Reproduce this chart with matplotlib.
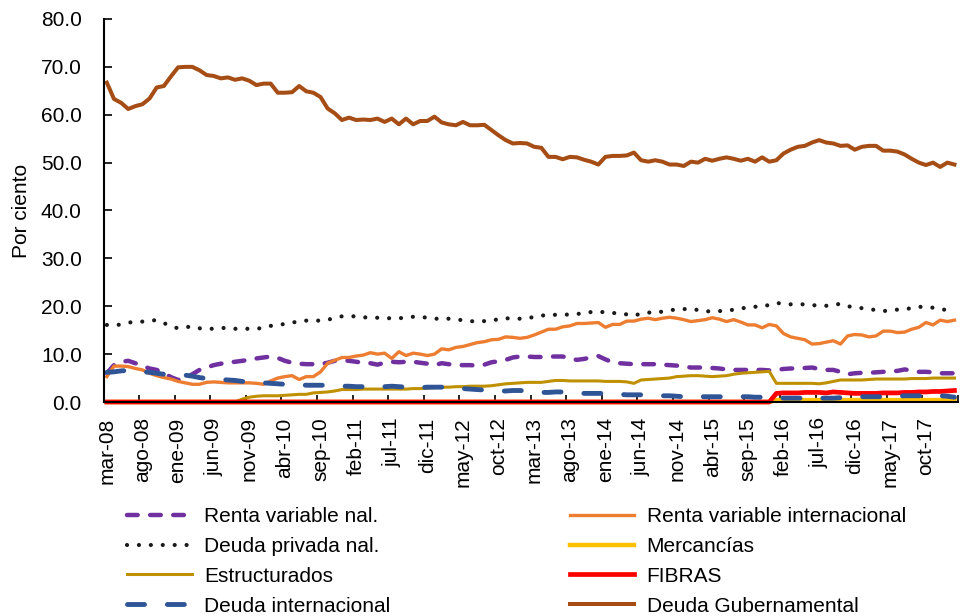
import matplotlib
matplotlib.use("Agg")
import matplotlib.pyplot as plt
import numpy as np

plt.rcParams['font.family'] = ['Liberation Sans', 'DejaVu Sans']

# meses de mar-08 a feb-18
meses_abr = ['ene', 'feb', 'mar', 'abr', 'may', 'jun', 'jul', 'ago', 'sep', 'oct', 'nov', 'dic']
fechas = []
for k in range(120):
    m = (2 + k) % 12
    a = 8 + (2 + k) // 12
    fechas.append('%s-%02d' % (meses_abr[m], a))

renta_var_nal = [6.0, 7.7, 8.4, 8.6, 8.1, 7.5, 7.0, 6.7, 6.0, 5.2,
                 4.6, 5.0, 5.8, 6.7, 7.2, 7.7, 8.0, 8.3, 8.4, 8.6,
                 8.8, 9.1, 9.3, 9.5, 9.2, 8.6, 8.2, 8.0, 7.9, 7.9,
                 7.9, 8.2, 8.6, 8.7, 8.6, 8.4, 8.2, 8.1, 7.8, 8.2,
                 8.4, 8.3, 8.4, 8.4, 8.2, 8.0, 7.7, 8.1, 7.9, 7.7,
                 7.7, 7.7, 7.6, 7.8, 8.3, 8.5, 8.8, 9.3, 9.5, 9.5,
                 9.4, 9.4, 9.5, 9.5, 9.5, 9.1, 8.8, 9.0, 9.3, 9.6,
                 8.9, 8.3, 8.1, 8.0, 7.9, 7.9, 7.9, 7.9, 7.8, 7.7,
                 7.6, 7.4, 7.2, 7.2, 7.2, 7.1, 7.0, 6.8, 6.7, 6.7,
                 6.7, 6.7, 6.7, 6.6, 6.7, 6.9, 7.0, 7.0, 7.1, 7.2,
                 6.9, 6.7, 6.7, 6.3, 5.8, 6.0, 6.1, 6.1, 6.2, 6.3,
                 6.4, 6.5, 6.8, 6.6, 6.3, 6.3, 6.2, 6.0, 6.0, 6.0]

renta_var_int = [5.3, 7.5, 7.5, 7.4, 7.0, 6.7, 6.0, 5.5, 5.1, 4.8,
                 4.3, 4.0, 3.7, 3.7, 4.1, 4.2, 4.1, 4.0, 4.0, 4.0,
                 4.0, 3.9, 3.7, 4.4, 5.0, 5.3, 5.5, 4.7, 5.3, 5.3,
                 6.3, 8.1, 8.7, 9.3, 9.3, 9.6, 9.8, 10.3, 10.0, 10.2,
                 9.1, 10.5, 9.7, 10.2, 10.0, 9.7, 10.0, 11.1, 10.9, 11.4,
                 11.6, 12.0, 12.4, 12.6, 13.0, 13.1, 13.6, 13.5, 13.3, 13.5,
                 14.0, 14.6, 15.2, 15.2, 15.7, 15.9, 16.4, 16.4, 16.5, 16.6,
                 15.6, 16.2, 16.2, 16.9, 16.9, 17.3, 17.5, 17.2, 17.5, 17.7,
                 17.5, 17.2, 16.8, 17.0, 17.2, 17.6, 17.3, 16.8, 17.2, 16.7,
                 16.1, 16.1, 15.5, 16.2, 15.9, 14.3, 13.6, 13.3, 13.0, 12.1,
                 12.2, 12.5, 12.8, 12.1, 13.8, 14.1, 14.0, 13.6, 13.8, 14.8,
                 14.8, 14.5, 14.6, 15.2, 15.6, 16.6, 16.1, 17.1, 16.8, 17.1]

deuda_priv_nal = [16.1, 16.0, 16.2, 16.6, 16.7, 16.8, 17.0, 17.1, 16.5, 15.8,
                  15.4, 15.6, 15.8, 15.4, 15.3, 15.3, 15.5, 15.4, 15.3, 15.3,
                  15.3, 15.3, 15.5, 15.9, 16.1, 16.3, 16.6, 16.8, 17.0, 17.0,
                  17.0, 17.2, 17.5, 17.9, 17.9, 17.9, 17.7, 17.6, 17.6, 17.5,
                  17.5, 17.5, 17.6, 17.8, 17.8, 17.6, 17.4, 17.4, 17.4, 17.2,
                  17.1, 16.9, 16.8, 16.9, 17.0, 17.3, 17.5, 17.4, 17.4, 17.6,
                  17.7, 18.0, 18.3, 18.2, 18.2, 18.3, 18.4, 18.5, 18.8, 18.9,
                  18.7, 18.6, 18.5, 18.3, 18.0, 18.5, 18.7, 18.6, 18.9, 19.1,
                  19.4, 19.4, 19.5, 19.2, 18.9, 19.0, 19.0, 19.0, 19.3, 19.5,
                  19.8, 19.9, 19.9, 20.3, 20.7, 20.5, 20.4, 20.4, 20.4, 20.2,
                  20.2, 20.1, 20.3, 20.5, 20.0, 19.8, 19.6, 19.4, 19.2, 19.0,
                  19.1, 19.3, 19.4, 19.6, 19.9, 19.8, 19.7, 19.4, 19.2, 19.0]

mercancias = [0.0, 0.0, 0.0, 0.0, 0.0, 0.0, 0.0, 0.0, 0.0, 0.0,
              0.0, 0.0, 0.0, 0.0, 0.0, 0.0, 0.0, 0.0, 0.0, 0.0,
              0.0, 0.0, 0.0, 0.0, 0.0, 0.0, 0.0, 0.0, 0.0, 0.0,
              0.0, 0.0, 0.0, 0.0, 0.0, 0.0, 0.0, 0.0, 0.0, 0.0,
              0.0, 0.0, 0.0, 0.0, 0.0, 0.0, 0.0, 0.0, 0.0, 0.0,
              0.0, 0.0, 0.0, 0.0, 0.0, 0.0, 0.0, 0.0, 0.0, 0.0,
              0.0, 0.0, 0.0, 0.0, 0.0, 0.0, 0.0, 0.0, 0.0, 0.0,
              0.0, 0.0, 0.0, 0.0, 0.0, 0.0, 0.0, 0.0, 0.0, 0.0,
              0.0, 0.0, 0.0, 0.0, 0.0, 0.0, 0.0, 0.0, 0.0, 0.0,
              0.0, 0.0, 0.0, 0.0, 0.4, 0.4, 0.4, 0.4, 0.4, 0.4,
              0.4, 0.4, 0.4, 0.4, 0.4, 0.4, 0.4, 0.4, 0.4, 0.4,
              0.4, 0.4, 0.4, 0.4, 0.4, 0.4, 0.4, 0.4, 0.4, 0.4]

estructurados = [0.0, 0.0, 0.0, 0.0, 0.0, 0.0, 0.0, 0.0, 0.0, 0.0,
                 0.0, 0.0, 0.0, 0.0, 0.0, 0.0, 0.0, 0.0, 0.0, 0.6,
                 1.0, 1.2, 1.3, 1.3, 1.3, 1.4, 1.5, 1.6, 1.6, 1.9,
                 2.0, 2.1, 2.3, 2.6, 2.6, 2.6, 2.7, 2.7, 2.7, 2.7,
                 2.7, 2.7, 2.7, 2.8, 2.8, 2.9, 3.0, 3.1, 3.1, 3.2,
                 3.2, 3.3, 3.3, 3.3, 3.4, 3.6, 3.8, 3.9, 4.0, 4.1,
                 4.1, 4.1, 4.3, 4.5, 4.5, 4.4, 4.4, 4.4, 4.4, 4.4,
                 4.3, 4.3, 4.3, 4.2, 3.9, 4.6, 4.7, 4.8, 4.9, 5.0,
                 5.3, 5.4, 5.5, 5.5, 5.4, 5.3, 5.4, 5.5, 5.8, 6.0,
                 6.1, 6.2, 6.3, 6.4, 3.9, 3.9, 3.9, 3.9, 3.9, 3.9,
                 3.8, 4.0, 4.3, 4.6, 4.6, 4.6, 4.6, 4.7, 4.8, 4.8,
                 4.8, 4.8, 4.8, 4.9, 4.9, 4.9, 5.0, 5.0, 5.0, 5.0]

fibras = [0.0, 0.0, 0.0, 0.0, 0.0, 0.0, 0.0, 0.0, 0.0, 0.0,
          0.0, 0.0, 0.0, 0.0, 0.0, 0.0, 0.0, 0.0, 0.0, 0.0,
          0.0, 0.0, 0.0, 0.0, 0.0, 0.0, 0.0, 0.0, 0.0, 0.0,
          0.0, 0.0, 0.0, 0.0, 0.0, 0.0, 0.0, 0.0, 0.0, 0.0,
          0.0, 0.0, 0.0, 0.0, 0.0, 0.0, 0.0, 0.0, 0.0, 0.0,
          0.0, 0.0, 0.0, 0.0, 0.0, 0.0, 0.0, 0.0, 0.0, 0.0,
          0.0, 0.0, 0.0, 0.0, 0.0, 0.0, 0.0, 0.0, 0.0, 0.0,
          0.0, 0.0, 0.0, 0.0, 0.0, 0.0, 0.0, 0.0, 0.0, 0.0,
          0.0, 0.0, 0.0, 0.0, 0.0, 0.0, 0.0, 0.0, 0.0, 0.0,
          0.0, 0.0, 0.0, 0.0, 1.8, 1.9, 1.9, 1.9, 2.0, 2.0,
          2.0, 1.9, 2.1, 2.0, 1.9, 1.8, 1.8, 1.8, 1.8, 1.9,
          1.9, 1.9, 2.0, 2.0, 2.1, 2.1, 2.2, 2.2, 2.3, 2.4]

deuda_int = [6.2, 6.3, 6.5, 6.6, 6.4, 6.3, 6.2, 6.0, 5.8, 5.7,
             5.7, 5.6, 5.4, 5.1, 4.9, 4.8, 4.7, 4.6, 4.5, 4.3,
             4.2, 4.1, 4.0, 3.9, 3.8, 3.7, 3.7, 3.6, 3.5, 3.5,
             3.5, 3.5, 3.4, 3.3, 3.3, 3.2, 3.2, 3.1, 3.1, 3.2,
             3.3, 3.2, 3.1, 3.0, 3.0, 3.1, 3.1, 3.1, 3.0, 2.9,
             2.8, 2.7, 2.6, 2.5, 2.4, 2.3, 2.3, 2.4, 2.4, 2.3,
             2.2, 2.0, 2.0, 2.1, 2.1, 2.0, 1.9, 1.8, 1.8, 1.8,
             1.8, 1.7, 1.6, 1.5, 1.5, 1.5, 1.5, 1.4, 1.3, 1.3,
             1.2, 1.1, 1.1, 1.1, 1.1, 1.1, 1.1, 1.1, 1.1, 1.1,
             1.1, 1.0, 1.0, 0.9, 0.9, 0.8, 0.8, 0.8, 0.8, 0.8,
             0.8, 0.8, 0.8, 0.9, 0.9, 1.0, 1.1, 1.1, 1.1, 1.1,
             1.2, 1.2, 1.3, 1.3, 1.3, 1.3, 1.3, 1.3, 1.2, 1.0]

deuda_gub = [66.7, 63.3, 62.5, 61.2, 61.8, 62.2, 63.4, 65.7, 66.0, 68.0,
             69.9, 70.0, 70.0, 69.3, 68.3, 68.1, 67.6, 67.8, 67.3, 67.6,
             67.1, 66.2, 66.5, 66.5, 64.6, 64.6, 64.7, 66.0, 64.9, 64.6,
             63.7, 61.3, 60.3, 58.9, 59.4, 58.9, 59.0, 58.9, 59.2, 58.5,
             59.2, 58.0, 59.2, 58.0, 58.7, 58.7, 59.6, 58.4, 58.0, 57.8,
             58.5, 57.8, 57.8, 57.9, 56.8, 55.7, 54.7, 54.0, 54.1, 54.0,
             53.3, 53.1, 51.2, 51.2, 50.7, 51.2, 51.1, 50.6, 50.2, 49.6,
             51.2, 51.4, 51.4, 51.5, 52.1, 50.5, 50.2, 50.5, 50.2, 49.6,
             49.6, 49.3, 50.2, 50.0, 50.8, 50.4, 50.8, 51.1, 50.8, 50.4,
             50.8, 50.2, 51.1, 50.2, 50.5, 51.9, 52.7, 53.3, 53.5, 54.2,
             54.7, 54.2, 54.0, 53.5, 53.6, 52.7, 53.3, 53.5, 53.5, 52.5,
             52.5, 52.3, 51.7, 50.8, 50.0, 49.5, 50.0, 49.1, 50.0, 49.6]

x = np.arange(len(fechas))

fig = plt.figure(figsize=(9.65, 6.16), dpi=100)
ax = fig.add_axes([104/965, 1 - 402/616, 854/965, 383/616])

l_rvn, = ax.plot(x, renta_var_nal, color='#7030A0', lw=3.2, ls=(0, (2.4, 2.8)),
                 dash_capstyle='round', clip_on=False, label='Renta variable nal.')
l_rvi, = ax.plot(x, renta_var_int, color='#ED7D31', lw=2.4, clip_on=False,
                 label='Renta variable internacional')
l_dpn, = ax.plot(x, deuda_priv_nal, color='#1a1a1a', lw=3.0, ls=(0, (0.01, 2.85)),
                 dash_capstyle='round', clip_on=False, label='Deuda privada nal.')
l_mer, = ax.plot(x, mercancias, color='#FFC000', lw=3.2, clip_on=False, label='Mercancías')
l_est, = ax.plot(x, estructurados, color='#BF9000', lw=2.2, clip_on=False, label='Estructurados')
l_fib, = ax.plot(x, fibras, color='#FF0000', lw=3.4, clip_on=False, label='FIBRAS')
l_din, = ax.plot(x, deuda_int, color='#2F5597', lw=3.5, ls=(0, (3.5, 4.7)),
                 dash_capstyle='round', clip_on=False, label='Deuda internacional')
l_dgu, = ax.plot(x, deuda_gub, color='#A64D15', lw=2.9, clip_on=False,
                 label='Deuda Gubernamental')

ax.set_xlim(-0.4, 119.4)
ax.set_ylim(0, 80)
ax.set_yticks(np.arange(0, 81, 10))
ax.set_yticklabels(['%.1f' % v for v in np.arange(0, 81, 10)])
ax.set_xticks(x[::5])
ax.set_xticklabels(fechas[::5], rotation=90)
ax.set_xticks(np.arange(4.5, 120, 5), minor=True)
ax.tick_params(axis='x', which='major', length=0, pad=11, labelsize=15)
ax.tick_params(axis='x', which='minor', direction='in', length=5, width=1.2)
ax.tick_params(axis='y', direction='in', length=6, width=1.2, pad=16, labelsize=15)
for s in ['top', 'right']:
    ax.spines[s].set_visible(False)
for s in ['left', 'bottom']:
    ax.spines[s].set_linewidth(1.5)
ax.set_ylabel('Por ciento', fontsize=15, labelpad=7)

handles = [l_rvn, l_dpn, l_est, l_din, l_rvi, l_mer, l_fib, l_dgu]
fig.legend(handles=handles, labels=[h.get_label() for h in handles], ncol=2,
           loc='upper left', bbox_to_anchor=(127/965, 1 - 507/616), frameon=False,
           fontsize=15, handlelength=3.1, handletextpad=0.6, columnspacing=8.6,
           labelspacing=0.52, borderpad=0, borderaxespad=0)

fig.savefig('out.png', dpi=100)
